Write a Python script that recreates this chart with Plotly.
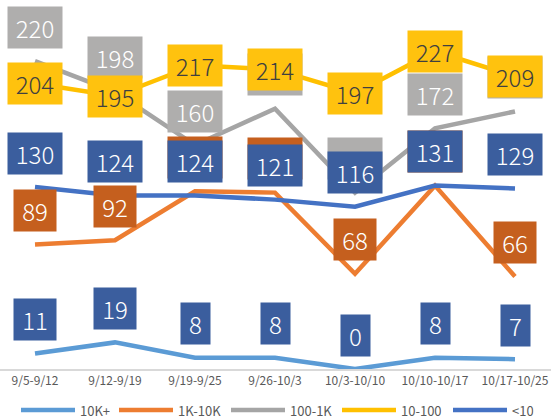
import plotly.graph_objects as go

categories = ["9/5-9/12", "9/12-9/19", "9/19-9/25", "9/26-10/3", "10/3-10/10", "10/10-10/17", "10/17-10/25"]
series_names = ["10K+", "1K-10K", "100-1K", "10-100", "<10"]
v_10k = [11, 19, 8, 8, 0, 8, 7]
v_1k_10k = [89, 92, 127, 126, 68, 131, 66]
v_100_1k = [220, 198, 160, 186, 126, 172, 184]
v_10_100 = [204, 195, 217, 214, 197, 227, 209]
v_lt10 = [130, 124, 124, 121, 116, 131, 129]

line_colors = ["#5B9BD5", "#ED7D31", "#A5A5A5", "#FFC000", "#4472C4"]
label_bg = ["#3B5E9E", "#C55F1E", "#AFAEAD", "#FFC20E", "#3B5E9E"]
label_fg = ["#FFFFFF", "#FFFFFF", "#FFFFFF", "#404040", "#FFFFFF"]
label_shift = [34, 34, 34, 0, 34]
all_values = [v_10k, v_1k_10k, v_100_1k, v_10_100, v_lt10]

# legend layout (pixels in the 551x419 figure)
legend_line_x0 = [21, 119, 231, 342, 453]
legend_line_len = 54
legend_py = 410

W, H, B = 551, 419, 50
PH = H - B

xs = list(range(len(categories)))
fig = go.Figure()
for name, vals, col in zip(series_names, all_values, line_colors):
    fig.add_trace(go.Scatter(x=xs, y=vals, mode="lines", name=name, showlegend=False,
                             line=dict(color=col, width=4.5)))

annotations = []
for vals, bg, fg, sh in zip(all_values, label_bg, label_fg, label_shift):
    for x, v in zip(xs, vals):
        n = len(str(v))
        w = {1: 29, 2: 42, 3: 54}[n]
        annotations.append(dict(x=x, y=v, xref="x", yref="y", text=str(v), showarrow=False,
                                yshift=sh, bgcolor=bg, width=w, height=41,
                                font=dict(family="Noto Sans CJK SC", size=24, color=fg, weight=300),
                                xanchor="center", yanchor="middle", borderpad=0))

shapes = []
ly = (PH - legend_py) / PH
for name, col, x0 in zip(series_names, line_colors, legend_line_x0):
    shapes.append(dict(type="line", xref="paper", yref="paper",
                       x0=x0 / W, x1=(x0 + legend_line_len) / W, y0=ly, y1=ly,
                       line=dict(color=col, width=4.5)))
    annotations.append(dict(x=(x0 + legend_line_len + 4) / W, y=ly, xref="paper", yref="paper",
                            text=name, showarrow=False, xanchor="left", yanchor="middle",
                            height=15, borderpad=0,
                            font=dict(family="Noto Sans CJK SC", size=13, color="#595959")))

fig.update_layout(
    width=W, height=H,
    margin=dict(l=0, r=0, t=0, b=B, autoexpand=False),
    paper_bgcolor="white", plot_bgcolor="white",
    annotations=annotations,
    shapes=shapes,
    showlegend=False,
    xaxis=dict(range=[-0.4375, 6.45], tickmode="array", tickvals=xs, ticktext=categories,
               showgrid=False, zeroline=False, showline=True, linecolor="#D9D9D9", linewidth=2,
               ticks="", tickfont=dict(family="Noto Sans CJK SC", size=12, color="#595959"),
               automargin=False, fixedrange=True),
    yaxis=dict(range=[0, 263.6], visible=False, showgrid=False, zeroline=False,
               automargin=False, fixedrange=True),
)
fig.write_html("out.html", config={"displayModeBar": False},
               post_script="document.body.style.margin='0';document.body.style.overflow='hidden';")
